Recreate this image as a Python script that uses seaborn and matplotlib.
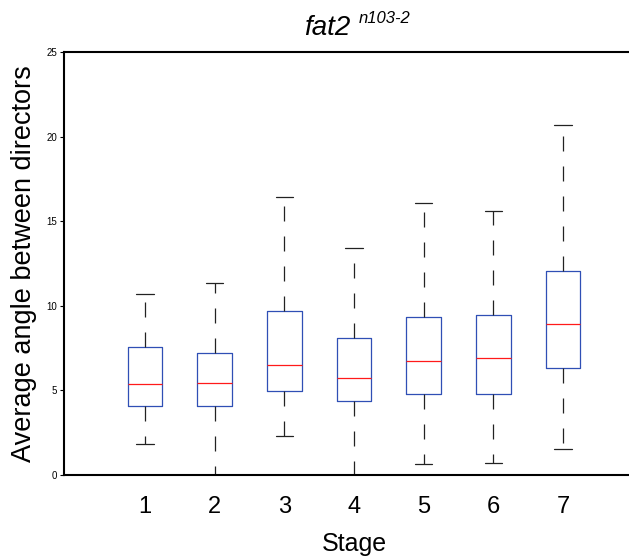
#setup
#importing libraries
import numpy as np
import pandas as pd
import matplotlib
matplotlib.use("Agg")
import matplotlib.pyplot as plt
import seaborn as sns

#five number summary for each stage: min, q1, median, q3, max
stages = [1, 2, 3, 4, 5, 6, 7]
lower_whisker = [1.83, 0.0, 2.32, 0.0, 0.63, 0.73, 1.52]
q1 = [4.08, 4.08, 4.96, 4.37, 4.79, 4.77, 6.32]
median = [5.36, 5.42, 6.52, 5.75, 6.74, 6.91, 8.90]
q3 = [7.55, 7.19, 9.69, 8.10, 9.34, 9.47, 12.06]
upper_whisker = [10.72, 11.37, 16.42, 13.42, 16.08, 15.58, 20.67]

#with 5 values per group, linear percentiles give back exactly q1/median/q3
rows = []
for i, s in enumerate(stages):
    for v in [lower_whisker[i], q1[i], median[i], q3[i], upper_whisker[i]]:
        rows.append({"Stage": s, "angle": v})
df = pd.DataFrame(rows)

sns.set_style("white")
plt.rcParams["font.family"] = ["Liberation Sans", "DejaVu Sans"]
plt.rcParams["text.color"] = "black"
plt.rcParams["axes.labelcolor"] = "black"
plt.rcParams["xtick.color"] = "black"
plt.rcParams["ytick.color"] = "black"

fig = plt.figure(figsize=(6.29, 5.58), dpi=100)
ax = fig.add_axes([64 / 629, 83 / 558, 580 / 629, 423 / 558])

box_blue = "#2f4fb5"
sns.boxplot(data=df, x="Stage", y="angle", native_scale=True, width=0.5,
            whis=(0, 100), fill=False, linecolor=box_blue, linewidth=0.9,
            boxprops=dict(color=box_blue),
            medianprops=dict(color="#ff1a1a", linewidth=0.9),
            whiskerprops=dict(color="#222222", linestyle=(0, (12, 12)), linewidth=0.9),
            capprops=dict(color="#222222", linewidth=0.9),
            ax=ax)

ax.set_xlim(-0.163, 8.163)
ax.set_ylim(0, 25)
ax.set_xticks(stages)
ax.set_xticklabels([str(s) for s in stages], fontsize=17)
ax.set_yticks([0, 5, 10, 15, 20, 25])
ax.set_yticklabels(["0", "5", "10", "15", "20", "25"], fontsize=7)
ax.tick_params(axis="x", length=0, pad=15)
ax.tick_params(axis="y", length=3, width=0.8, direction="out", pad=2, left=True)

for side in ["left", "bottom", "top", "right"]:
    ax.spines[side].set_visible(True)
    ax.spines[side].set_color("black")
    ax.spines[side].set_linewidth(1.5)

ax.set_xlabel("Stage", fontsize=18, labelpad=10)
ax.set_ylabel("Average angle between directors", fontsize=19.5, labelpad=7)

#title with superscript allele name
fig.text(350 / 629, 1 - 35 / 558, "fat2", fontsize=20, style="italic",
         ha="right", va="baseline")
fig.text(359 / 629, 1 - 23 / 558, "n103-2", fontsize=12, style="italic",
         ha="left", va="baseline")

plt.savefig("out.png", dpi=100)
